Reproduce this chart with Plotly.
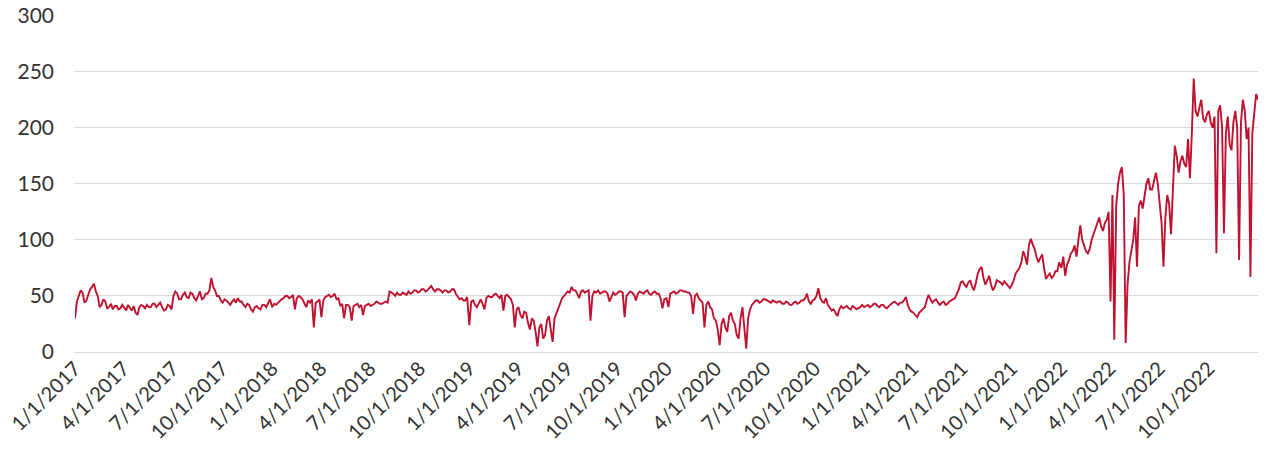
import pandas as pd
import plotly.graph_objects as go

# Twice-weekly readings for each year
v2017 = [30, 45, 50, 55, 53, 44, 46, 52, 56, 58, 61, 54, 50, 40, 42, 47, 45, 39, 40, 43,
         38, 41, 41, 38, 39, 42, 40, 37, 42, 40, 37, 41, 35, 33, 40, 42, 41, 39, 42, 40,
         40, 43, 43, 40, 42, 44, 40, 37, 38, 42, 41, 38, 50, 54, 52, 47, 47, 51, 53, 49,
         48, 53, 52, 48, 46, 50, 54, 47, 48, 52, 52, 55, 66, 58, 55, 50, 50, 46, 44, 47,
         46, 44, 42, 45, 47, 44, 48, 45, 45, 42, 40, 43, 42, 38, 36, 40, 41, 39, 38, 42,
         42, 40, 44, 47]
v2018 = [40, 43, 42, 44, 45, 47, 48, 50, 50, 48, 49, 51, 38, 48, 50, 49, 47, 44, 40, 46,
         44, 47, 22, 44, 45, 47, 31, 46, 49, 50, 51, 49, 50, 52, 47, 48, 41, 43, 30, 42,
         42, 40, 28, 41, 42, 43, 40, 42, 33, 41, 42, 43, 41, 42, 43, 45, 44, 43, 43, 44,
         45, 44, 54, 53, 52, 50, 53, 51, 51, 53, 52, 51, 54, 52, 53, 55, 55, 53, 54, 56,
         56, 54, 55, 57, 59, 56, 54, 56, 56, 55, 53, 55, 55, 53, 54, 56, 56, 52, 50, 47,
         48, 46, 46, 49]
v2019 = [24, 45, 46, 42, 40, 44, 47, 43, 38, 48, 50, 49, 49, 51, 52, 50, 48, 51, 37, 50,
         51, 49, 47, 42, 22, 38, 40, 33, 30, 36, 35, 26, 20, 30, 28, 18, 5, 22, 25, 12,
         15, 28, 32, 20, 9, 30, 35, 40, 45, 48, 50, 52, 54, 53, 58, 55, 55, 52, 48, 54,
         55, 53, 54, 55, 28, 50, 54, 53, 55, 52, 53, 54, 54, 52, 45, 50, 53, 51, 52, 54,
         54, 53, 31, 50, 52, 54, 53, 51, 46, 52, 54, 53, 52, 54, 55, 52, 51, 53, 54, 52,
         52, 48, 39, 47]
v2020 = [48, 40, 52, 53, 54, 52, 53, 55, 55, 54, 54, 53, 53, 50, 34, 50, 52, 48, 46, 44,
         22, 42, 45, 40, 38, 30, 28, 20, 6, 25, 30, 22, 18, 32, 35, 28, 25, 15, 12, 30,
         40, 20, 3, 30, 38, 42, 44, 46, 46, 44, 45, 47, 47, 46, 45, 44, 46, 45, 44, 45,
         45, 43, 43, 45, 44, 42, 42, 44, 45, 43, 44, 46, 46, 48, 52, 45, 43, 46, 47, 50,
         57, 48, 45, 44, 48, 42, 40, 37, 38, 35, 32, 38, 41, 39, 40, 41, 39, 38, 41, 40,
         38, 39, 40, 42]
v2021 = [40, 41, 42, 40, 41, 43, 43, 41, 40, 42, 42, 40, 39, 41, 43, 44, 45, 43, 42, 44,
         44, 46, 49, 42, 38, 36, 35, 33, 31, 35, 37, 39, 40, 46, 51, 47, 44, 46, 47, 44,
         42, 44, 45, 42, 43, 45, 46, 47, 48, 52, 56, 62, 63, 60, 58, 62, 64, 58, 55, 62,
         70, 74, 76, 66, 60, 64, 68, 60, 55, 58, 64, 63, 62, 60, 63, 61, 59, 57, 60, 64,
         70, 72, 75, 80, 90, 85, 78, 95, 101, 96, 92, 85, 80, 84, 87, 75, 65, 68, 70, 66,
         68, 72, 72, 80]
v2022 = [75, 85, 68, 78, 82, 88, 90, 95, 85, 100, 113, 100, 95, 90, 88, 92, 100, 105, 110, 115,
         120, 112, 108, 115, 118, 125, 45, 140, 11, 130, 150, 160, 165, 140, 8, 60, 80, 90, 100, 120,
         76, 130, 135, 128, 140, 150, 155, 145, 145, 152, 160, 150, 130, 115, 76, 120, 140, 132, 105, 150,
         184, 175, 160, 170, 175, 168, 165, 190, 155, 195, 244, 215, 210, 218, 225, 208, 205, 212, 215, 205,
         200, 210, 88, 215, 220, 200, 106, 195, 210, 185, 180, 205, 215, 200, 82, 205, 225, 215, 190, 200,
         67, 195, 210, 230, 225]

years = [2017, 2018, 2019, 2020, 2021, 2022]
series = [v2017, v2018, v2019, v2020, v2021, v2022]

tick_dates = pd.date_range("2017-01-01", "2022-10-01", freq="QS")
tick_text = [f"{d.month}/{d.day}/{d.year}" for d in tick_dates]

dates = []
values = []
for yr, vals in zip(years, series):
    end = f"{yr}-12-31" if yr == 2022 else f"{yr}-12-28"
    dates.extend(pd.date_range(f"{yr}-01-01", end, periods=len(vals)))
    values.extend(vals)

fig = go.Figure(go.Scatter(x=dates, y=values, mode="lines",
                           line=dict(color="#BE1230", width=1.9)))

font_col = "#333333"
fig.update_layout(
    width=1279, height=464,
    margin=dict(l=75, r=21, t=15, b=112),
    paper_bgcolor="white", plot_bgcolor="white",
    showlegend=False,
    font=dict(family="Lato, Open Sans, sans-serif", color=font_col),
)
fig.update_xaxes(
    range=["2017-01-01", "2022-12-31"],
    tickvals=tick_dates, ticktext=tick_text, tickangle=-45,
    tickfont=dict(size=20, color=font_col),
    showgrid=False, showline=False, zeroline=False, ticks="",
    automargin=False, ticklabeloverflow="allow",
)
fig.update_yaxes(
    range=[0, 300.6], tickvals=[0, 50, 100, 150, 200, 250, 300],
    tickfont=dict(size=21, color=font_col),
    showgrid=True, gridcolor="#d9d9d9", gridwidth=1,
    zeroline=True, zerolinecolor="#d9d9d9", zerolinewidth=1,
    showline=False, ticks="", ticklabelstandoff=20,
    automargin=False, ticklabeloverflow="allow",
)
fig.write_html("out.html",
               config={"displayModeBar": False},
               post_script="document.body.style.margin='0px';document.body.style.overflow='hidden';")
